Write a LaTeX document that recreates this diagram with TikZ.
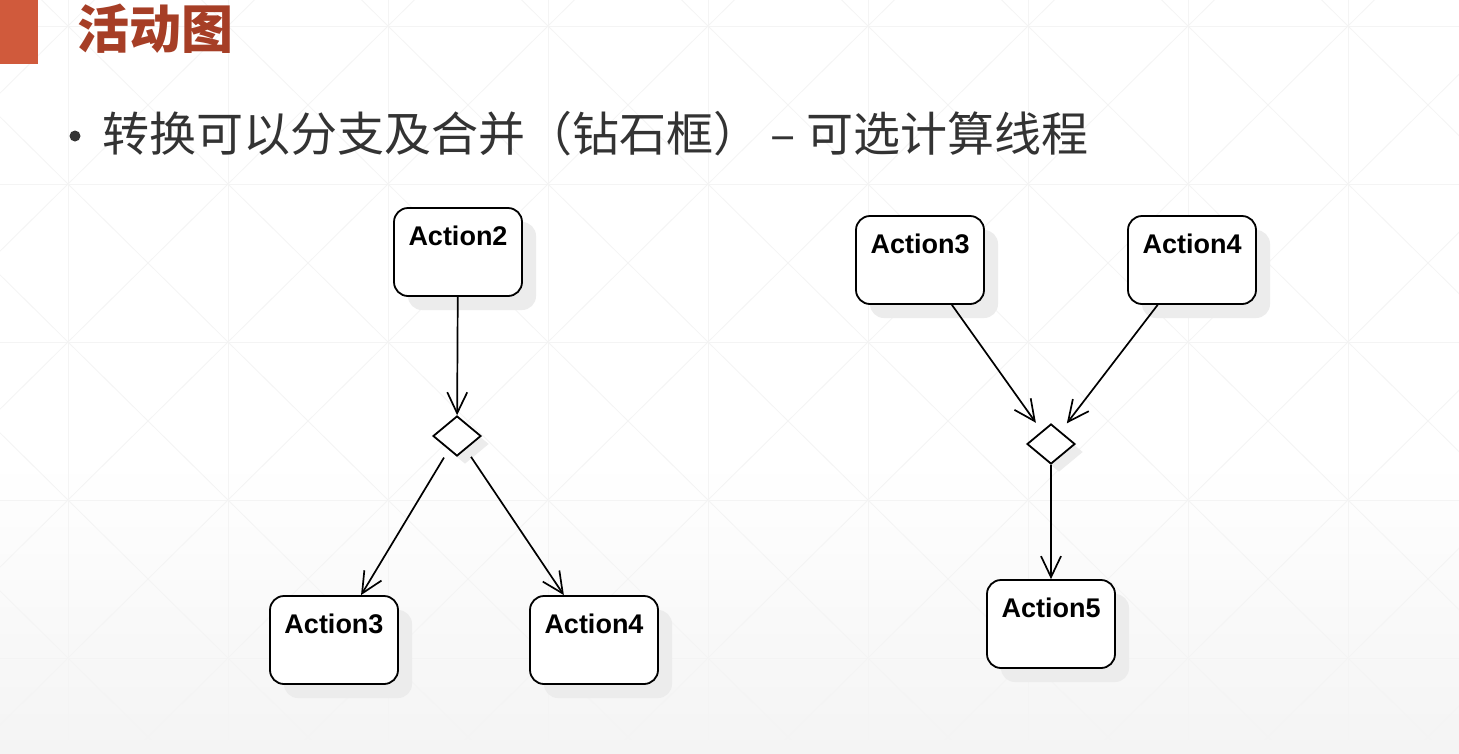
\documentclass[tikz,border=0pt]{standalone}
\usepackage{fontspec}
\newfontfamily\cjk{Noto Sans CJK SC}
\newfontfamily\arial{Liberation Sans}
\usetikzlibrary{arrows.meta,shapes.geometric,shadows,calc}
\definecolor{barred}{RGB}{208,90,60}
\definecolor{titlered}{RGB}{166,62,38}
\definecolor{subgray}{RGB}{51,51,51}
\definecolor{gridline}{RGB}{244,244,244}
\definecolor{bgbottom}{RGB}{244,244,244}
\definecolor{shadowgray}{RGB}{236,236,236}
\begin{document}
\begin{tikzpicture}[x=1pt,y=-1pt,
  actbox/.style={draw, line width=1.8pt, rounded corners=14pt, fill=white,
    minimum width=128pt, minimum height=88pt, inner sep=0pt,
    text height=37pt, text depth=51pt,
    font=\arial\bfseries\fontsize{27}{27}\selectfont,
    drop shadow={shadow xshift=14pt, shadow yshift=-14pt, fill=shadowgray, opacity=1}},
  decision/.style={diamond, draw, line width=1.8pt, fill=white, inner sep=0pt,
    minimum width=48pt, minimum height=40pt,
    drop shadow={shadow xshift=8pt, shadow yshift=-8pt, fill=shadowgray, opacity=1}},
  flow/.style={line width=1.7pt, -{Straight Barb[length=21pt,width=20pt,line width=1.7pt]}},
  gridln/.style={draw=gridline, line width=0.8pt}]
\useasboundingbox (0,0) rectangle (1459,753);
% background
\fill[white] (0,0) rectangle (1459,460);
\shade[top color=white, bottom color=bgbottom] (0,460) rectangle (1459,753);
\begin{scope}
\clip (0,0) rectangle (1459,753);
\foreach \i in {-1,...,9} {
  \draw[gridln] ({68+160*\i},0) -- ({68+160*\i},753);
  \foreach \j in {-1,...,4} {
    \draw[gridln] ({68+160*\i},{26+158*\j}) -- ({228+160*\i},{184+158*\j});
    \draw[gridln] ({228+160*\i},{26+158*\j}) -- ({68+160*\i},{184+158*\j});
  }
}
\foreach \j in {0,...,4} \draw[gridln] (0,{26+158*\j}) -- (1459,{26+158*\j});
\end{scope}
% header
\fill[barred] (0,0) rectangle (38,64);
\node[anchor=west, inner sep=0pt, text=titlered, font=\cjk\bfseries\fontsize{52}{52}\selectfont] (title) at (77,29) {活动图};
\node[circle, fill=subgray, inner sep=0pt, minimum size=11pt] (bullet) at (75,136) {};
\node[anchor=west, inner sep=0pt, text=subgray, font=\cjk\fontsize{47}{47}\selectfont] (sub) at (102,134) {转换可以分支及合并（钻石框） – 可选计算线程};
% left diagram
\node[actbox] (a2) at (458,252) {Action2};
\node[decision] (d1) at (457,436) {};
\node[actbox] (a3) at (334,640) {Action3};
\node[actbox] (a4) at (594,640) {Action4};
\draw[flow] (a2) -- (d1);
\draw[flow, shorten <=9pt] (d1) -- (a3);
\draw[flow, shorten <=9pt] (d1) -- (a4);
% right diagram
\node[actbox] (b3) at (920,260) {Action3};
\node[actbox] (b4) at (1192,260) {Action4};
\node[decision] (d2) at (1051,444) {};
\node[actbox] (b5) at (1051,624) {Action5};
\draw[flow, shorten >=10pt] (b3) -- (d2);
\draw[flow, shorten >=10pt] (b4) -- (d2);
\draw[flow] (d2) -- (b5);
\end{tikzpicture}
\end{document}
